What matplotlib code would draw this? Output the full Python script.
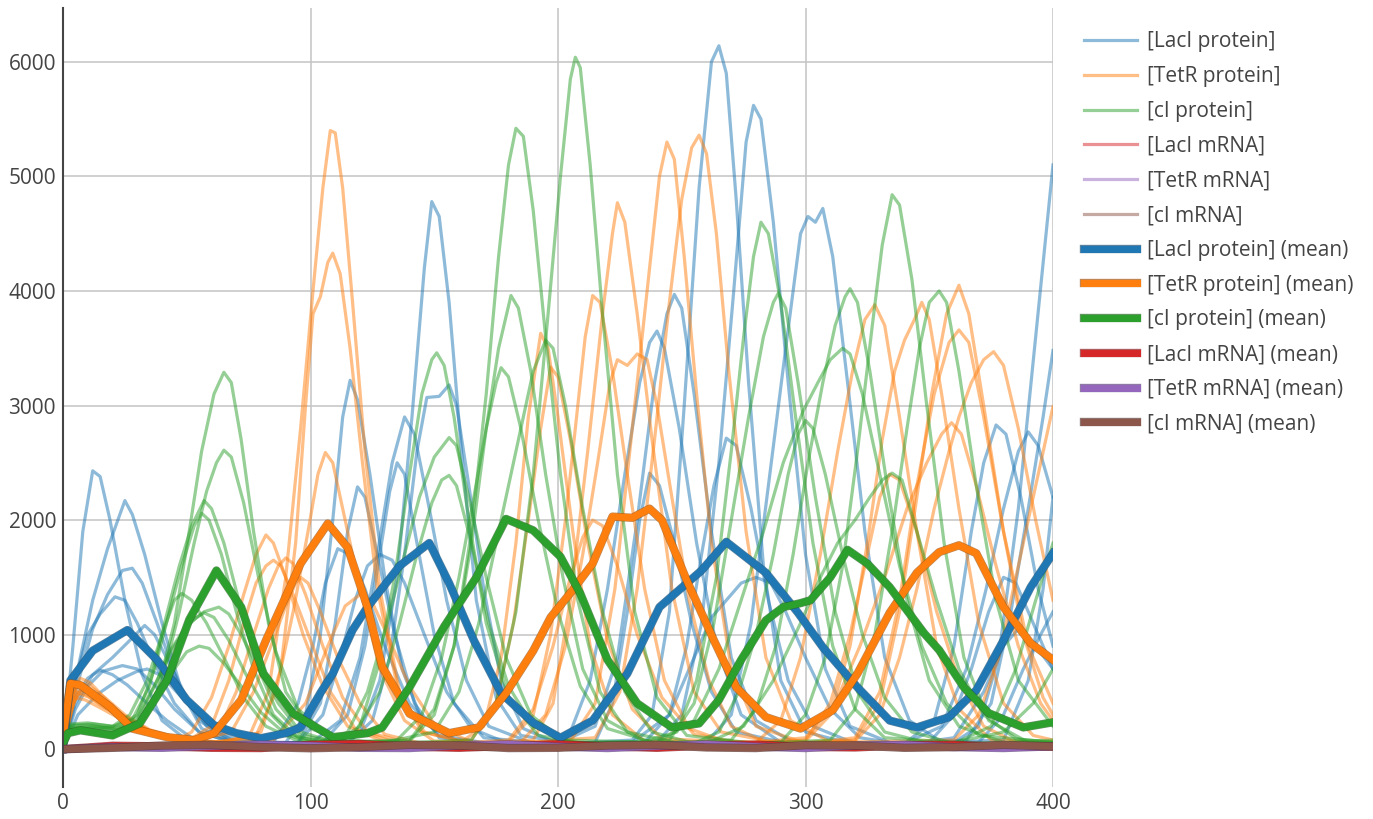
import numpy as np
import matplotlib
matplotlib.use("Agg")
import matplotlib.pyplot as plt
import matplotlib.patheffects as pe
import matplotlib.colors as mcol

plt.rcParams['font.family'] = ['Open Sans', 'DejaVu Sans']

# individual runs, (time, value) pairs
laci_runs = [
    [(0, 0), (4, 900), (8, 1900), (12, 2430), (15, 2380), (19, 2000), (25, 1300), (32, 650), (40, 250), (50, 80), (70, 40),
     (110, 60), (120, 150), (128, 600), (135, 1500), (141, 2900), (146, 4200), (149, 4780), (152, 4650), (156, 3900),
     (161, 2600), (167, 1300), (175, 450), (185, 120), (205, 50), (230, 80), (238, 300), (245, 1200), (251, 3000),
     (257, 4900), (262, 6000), (265, 6140), (268, 5900), (272, 4800), (277, 3200), (283, 1600), (290, 600), (300, 150),
     (320, 40), (360, 60), (370, 200), (378, 800), (386, 2100), (393, 3600), (400, 5100)],
    [(0, 0), (6, 700), (12, 1300), (18, 1750), (25, 2170), (28, 2050), (33, 1700), (40, 1100), (48, 500), (56, 180),
     (70, 50), (90, 60), (98, 300), (104, 1000), (109, 2000), (113, 2900), (116, 3220), (119, 3050), (124, 2400),
     (130, 1500), (137, 700), (145, 250), (160, 60), (200, 50), (215, 200), (224, 800), (232, 2000), (239, 3200),
     (244, 3800), (247, 3970), (250, 3850), (255, 3100), (262, 1900), (270, 800), (280, 250), (295, 60), (340, 50),
     (352, 250), (360, 900), (367, 1900), (372, 2500), (377, 2830), (381, 2750), (387, 2200), (394, 1400), (400, 900)],
    [(0, 0), (5, 500), (12, 1050), (18, 1350), (24, 1560), (28, 1580), (32, 1450), (38, 1100), (46, 600), (55, 250),
     (68, 70), (100, 50), (112, 250), (120, 800), (127, 1700), (133, 2500), (138, 2900), (142, 2750), (148, 2100),
     (155, 1300), (163, 600), (172, 200), (190, 50), (240, 60), (250, 300), (258, 1100), (265, 2500), (271, 4000),
     (276, 5300), (279, 5620), (282, 5500), (287, 4600), (293, 3200), (300, 1700), (308, 700), (318, 200), (335, 50),
     (365, 80), (375, 400), (383, 1200), (390, 2100), (396, 2900), (400, 3480)],
    [(0, 0), (5, 600), (10, 1000), (15, 1180), (21, 1330), (25, 1300), (30, 1100), (37, 750), (45, 400), (55, 150),
     (70, 50), (105, 60), (115, 300), (122, 900), (128, 1700), (132, 2250), (135, 2500), (138, 2400), (143, 1800),
     (150, 1000), (158, 400), (170, 100), (195, 50), (205, 150), (213, 600), (220, 1400), (227, 2400), (233, 3200),
     (237, 3550), (240, 3650), (243, 3500), (249, 2800), (256, 1800), (264, 900), (274, 300), (290, 60), (340, 50),
     (355, 200), (365, 700), (373, 1400), (380, 2100), (386, 2600), (390, 2770), (394, 2650), (400, 2200)],
    [(0, 0), (5, 400), (12, 650), (20, 800), (27, 950), (33, 1080), (37, 1000), (43, 750), (50, 450), (58, 200),
     (70, 60), (115, 50), (125, 250), (132, 800), (138, 1700), (143, 2600), (147, 3070), (152, 3080), (156, 3180),
     (159, 3000), (164, 2300), (170, 1400), (177, 600), (186, 180), (200, 50), (260, 60), (270, 300), (278, 1100),
     (285, 2300), (292, 3500), (298, 4500), (301, 4650), (304, 4600), (307, 4720), (311, 4300), (317, 3200),
     (324, 1900), (332, 800), (342, 250), (355, 60), (380, 80), (390, 600), (396, 1400), (400, 2200)],
    [(0, 0), (5, 350), (10, 550), (16, 680), (24, 730), (30, 700), (37, 560), (45, 350), (55, 150), (70, 50), (95, 60),
     (104, 400), (110, 1100), (115, 1900), (119, 2290), (122, 2200), (127, 1700), (134, 1000), (142, 400), (152, 100),
     (175, 40), (235, 60), (245, 300), (252, 900), (258, 1700), (263, 2300), (268, 2715), (272, 2650), (278, 2100),
     (285, 1300), (293, 600), (303, 200), (320, 50), (370, 60), (380, 300), (388, 700), (395, 1000), (400, 1200)],
    [(0, 0), (6, 300), (14, 480), (22, 600), (30, 680), (34, 700), (40, 640), (48, 450), (58, 220), (70, 80), (85, 60),
     (95, 400), (101, 900), (106, 1450), (111, 1750), (116, 1700), (122, 1400), (130, 900), (140, 400), (152, 120),
     (175, 40), (215, 60), (222, 400), (228, 1200), (233, 2000), (237, 2410), (241, 2300), (247, 1800), (254, 1100),
     (262, 500), (272, 150), (295, 40), (350, 60), (360, 300), (367, 700), (374, 1200), (380, 1500), (385, 1450),
     (392, 1100), (400, 700)],
    [(0, 0), (5, 450), (10, 620), (15, 690), (20, 650), (26, 560), (33, 420), (42, 250), (52, 100), (65, 40), (95, 60),
     (105, 300), (112, 800), (118, 1300), (123, 1600), (128, 1700), (133, 1650), (138, 1450), (146, 1000), (155, 500),
     (165, 180), (180, 50), (230, 60), (245, 300), (255, 800), (262, 1150), (268, 1300), (274, 1450), (280, 1500),
     (286, 1450), (292, 1200), (300, 800), (310, 350), (322, 100), (340, 40), (360, 100), (372, 500), (380, 900),
     (386, 1050), (393, 900), (400, 700)],
]

tetr_runs = [
    [(0, 0), (3, 450), (7, 620), (11, 580), (18, 420), (26, 260), (35, 150), (45, 90), (60, 60), (75, 100), (83, 500),
     (90, 1500), (96, 2800), (101, 4000), (105, 4900), (108, 5400), (110, 5380), (113, 4900), (117, 3900), (122, 2600),
     (128, 1400), (136, 500), (146, 150), (165, 50), (190, 80), (198, 400), (205, 1300), (212, 2600), (218, 3800),
     (222, 4500), (224, 4770), (227, 4600), (232, 3800), (238, 2700), (246, 1400), (255, 500), (266, 150), (290, 50),
     (320, 80), (330, 400), (338, 1200), (345, 2200), (351, 3100), (357, 3800), (362, 4050), (366, 3800), (372, 3000),
     (380, 1900), (388, 1000), (396, 450), (400, 300)],
    [(0, 0), (3, 400), (6, 580), (10, 560), (17, 450), (25, 300), (35, 170), (48, 90), (65, 60), (80, 150), (88, 700),
     (94, 1800), (98, 3000), (101, 3800), (104, 3950), (107, 4250), (109, 4330), (112, 4150), (116, 3500), (121, 2500),
     (127, 1400), (135, 550), (145, 150), (165, 50), (205, 70), (215, 400), (223, 1400), (230, 2800), (236, 4000),
     (241, 5000), (244, 5300), (247, 5150), (251, 4300), (256, 3100), (262, 1800), (270, 700), (280, 200), (300, 50),
     (320, 100), (330, 500), (338, 1300), (345, 2300), (352, 3100), (358, 3550), (362, 3660), (366, 3550), (372, 2900),
     (380, 1900), (390, 900), (400, 400)],
    [(0, 0), (3, 380), (5, 560), (9, 530), (15, 430), (24, 300), (34, 170), (46, 90), (62, 60), (78, 120), (86, 500),
     (93, 1200), (99, 1900), (103, 2400), (106, 2590), (109, 2500), (114, 2000), (120, 1400), (128, 700), (138, 250),
     (150, 70), (180, 50), (215, 100), (225, 500), (232, 1400), (239, 2700), (245, 3900), (250, 4800), (254, 5250),
     (257, 5360), (260, 5200), (264, 4500), (269, 3300), (276, 1900), (284, 800), (294, 250), (310, 60), (360, 80),
     (370, 300), (378, 800), (385, 1500), (392, 2200), (400, 2990)],
    [(0, 0), (4, 400), (8, 540), (12, 500), (18, 400), (26, 270), (36, 150), (46, 80), (52, 150), (60, 450), (67, 900),
     (73, 1350), (78, 1700), (82, 1870), (85, 1800), (90, 1500), (97, 1000), (105, 550), (115, 200), (130, 60),
     (160, 50), (170, 200), (177, 800), (183, 1800), (188, 2900), (193, 3630), (196, 3500), (200, 2900), (206, 1900),
     (213, 900), (222, 300), (235, 70), (280, 60), (290, 250), (298, 800), (306, 1700), (313, 2600), (319, 3300),
     (324, 3750), (328, 3880), (332, 3700), (338, 2900), (345, 1900), (353, 900), (362, 350), (375, 80), (400, 60)],
    [(0, 0), (4, 380), (6, 520), (10, 500), (17, 380), (25, 260), (35, 150), (48, 80), (62, 120), (70, 500), (77, 1000),
     (83, 1400), (87, 1600), (90, 1670), (93, 1620), (98, 1350), (105, 900), (113, 450), (123, 150), (140, 50),
     (180, 60), (190, 300), (197, 1000), (203, 2000), (208, 3000), (211, 3600), (214, 3960), (217, 3900), (222, 3300),
     (228, 2400), (235, 1400), (243, 600), (253, 180), (270, 50), (300, 70), (310, 300), (318, 900), (325, 1800),
     (331, 2700), (336, 3300), (340, 3570), (344, 3750), (347, 3900), (350, 3750), (355, 3100), (362, 2100),
     (370, 1100), (380, 400), (392, 120), (400, 80)],
    [(0, 0), (3, 350), (5, 500), (9, 480), (16, 380), (25, 260), (36, 140), (50, 70), (60, 200), (67, 600), (73, 1100),
     (78, 1450), (82, 1600), (85, 1650), (88, 1600), (93, 1350), (100, 950), (108, 500), (118, 180), (135, 50),
     (185, 60), (195, 300), (203, 900), (210, 1700), (216, 2500), (221, 3200), (224, 3400), (228, 3350), (232, 3450),
     (236, 3400), (240, 3000), (246, 2200), (253, 1300), (261, 600), (270, 200), (285, 50), (320, 70), (330, 300),
     (338, 800), (345, 1400), (352, 2100), (358, 2600), (362, 2900), (367, 3200), (372, 3400), (376, 3470),
     (380, 3350), (386, 2800), (393, 2000), (400, 1300)],
    [(0, 0), (3, 330), (6, 480), (10, 460), (17, 360), (27, 240), (38, 130), (52, 70), (68, 150), (77, 500), (84, 900),
     (90, 1250), (94, 1450), (96, 1500), (99, 1450), (104, 1200), (111, 800), (120, 400), (130, 130), (145, 50),
     (165, 80), (175, 400), (182, 1100), (188, 2000), (193, 2800), (197, 3335), (200, 3250), (205, 2700), (212, 1800),
     (220, 950), (230, 350), (242, 90), (280, 60), (300, 100), (312, 400), (322, 900), (332, 1500), (341, 2100),
     (349, 2500), (355, 2750), (359, 2850), (363, 2750), (369, 2300), (377, 1600), (386, 900), (395, 400), (400, 250)],
    [(0, 0), (3, 300), (5, 450), (9, 430), (16, 350), (26, 230), (38, 120), (55, 60), (85, 80), (98, 400), (107, 900),
     (114, 1250), (120, 1350), (125, 1280), (132, 950), (140, 550), (150, 220), (165, 60), (180, 80), (190, 350),
     (198, 900), (205, 1500), (210, 1850), (214, 2000), (218, 1950), (224, 1600), (232, 1000), (242, 450), (255, 130),
     (275, 50), (300, 80), (310, 400), (318, 1000), (325, 1700), (330, 2200), (334, 2400), (338, 2350), (345, 1900),
     (353, 1200), (362, 600), (372, 200), (385, 60), (400, 50)],
]

ci_runs = [
    [(0, 0), (3, 200), (10, 210), (20, 180), (30, 230), (38, 500), (45, 1100), (51, 1900), (56, 2600), (61, 3100),
     (65, 3290), (68, 3200), (72, 2700), (77, 1900), (83, 1100), (90, 500), (100, 180), (115, 60), (140, 70),
     (150, 300), (158, 900), (165, 1900), (171, 3100), (176, 4300), (180, 5100), (183, 5420), (186, 5350), (190, 4700),
     (195, 3600), (201, 2400), (208, 1300), (217, 500), (228, 150), (250, 50), (290, 60), (300, 300), (308, 800),
     (315, 1600), (321, 2600), (327, 3700), (331, 4400), (335, 4840), (338, 4750), (343, 4100), (349, 3000),
     (356, 1800), (364, 800), (374, 250), (390, 60), (400, 50)],
    [(0, 0), (3, 180), (12, 200), (22, 170), (32, 250), (40, 600), (47, 1200), (53, 1800), (58, 2250), (62, 2500),
     (65, 2610), (68, 2550), (73, 2150), (79, 1500), (86, 850), (95, 350), (108, 100), (130, 50), (165, 80), (175, 400),
     (183, 1200), (190, 2400), (196, 3800), (201, 5000), (205, 5850), (207, 6040), (209, 5950), (213, 5100),
     (218, 3800), (224, 2400), (231, 1200), (240, 450), (252, 120), (280, 50), (310, 80), (320, 350), (328, 1000),
     (335, 1900), (341, 2800), (346, 3500), (350, 3900), (354, 4000), (357, 3900), (362, 3300), (369, 2300),
     (377, 1300), (386, 600), (400, 200)],
    [(0, 0), (3, 220), (10, 230), (20, 200), (28, 260), (35, 550), (41, 1100), (47, 1600), (52, 1950), (57, 2170),
     (60, 2100), (65, 1800), (71, 1300), (78, 750), (86, 350), (96, 120), (115, 50), (140, 80), (150, 350), (158, 900),
     (165, 1800), (171, 2800), (176, 3500), (181, 3960), (184, 3850), (189, 3300), (195, 2400), (202, 1500), (210, 700),
     (220, 250), (235, 70), (248, 150), (256, 600), (264, 1500), (270, 2600), (275, 3600), (279, 4300), (282, 4600),
     (285, 4500), (290, 3900), (296, 2900), (303, 1800), (311, 900), (320, 350), (332, 100), (360, 60), (380, 150),
     (392, 400), (400, 700)],
    [(0, 0), (3, 190), (12, 180), (22, 200), (30, 300), (37, 700), (43, 1200), (48, 1600), (53, 1950), (56, 2060),
     (59, 2000), (64, 1700), (70, 1200), (77, 700), (85, 300), (95, 100), (110, 60), (120, 200), (127, 700),
     (134, 1500), (140, 2400), (145, 3100), (149, 3400), (151, 3460), (154, 3350), (158, 2900), (164, 2000),
     (171, 1100), (180, 450), (192, 120), (210, 50), (245, 80), (255, 400), (263, 1100), (270, 2000), (277, 2900),
     (283, 3600), (287, 3900), (289, 3980), (292, 3850), (297, 3200), (304, 2200), (312, 1200), (321, 500), (332, 150),
     (350, 50), (400, 60)],
    [(0, 0), (3, 170), (12, 190), (22, 170), (30, 280), (38, 600), (45, 900), (51, 1100), (57, 1200), (63, 1240),
     (67, 1180), (72, 1000), (79, 700), (87, 400), (96, 150), (110, 60), (135, 80), (145, 300), (153, 800), (160, 1500),
     (166, 2200), (171, 2800), (175, 3200), (177, 3330), (180, 3250), (185, 2800), (192, 2000), (200, 1200), (209, 550),
     (220, 180), (240, 50), (270, 80), (280, 350), (288, 900), (295, 1700), (301, 2500), (307, 3200), (312, 3700),
     (316, 3950), (318, 4020), (321, 3900), (326, 3300), (333, 2300), (341, 1300), (350, 600), (362, 200), (380, 60),
     (400, 80)],
    [(0, 0), (3, 160), (12, 170), (22, 150), (30, 250), (37, 550), (43, 850), (49, 1050), (54, 1150), (57, 1190),
     (61, 1150), (67, 950), (74, 650), (82, 350), (92, 130), (105, 50), (115, 150), (123, 500), (131, 1100), (138, 1700),
     (144, 2200), (150, 2550), (156, 2720), (159, 2650), (164, 2200), (171, 1500), (179, 800), (189, 300), (202, 80),
     (240, 60), (255, 250), (265, 700), (274, 1300), (283, 1900), (291, 2500), (299, 2950), (305, 3200), (310, 3400),
     (315, 3500), (318, 3450), (323, 3100), (330, 2400), (338, 1600), (347, 900), (357, 400), (370, 120), (400, 60)],
    [(0, 0), (3, 210), (12, 220), (20, 200), (27, 300), (34, 600), (40, 1000), (45, 1300), (48, 1360), (52, 1300),
     (58, 1100), (65, 800), (73, 450), (82, 200), (95, 70), (130, 60), (150, 150), (160, 500), (168, 1100), (175, 1800),
     (181, 2400), (186, 2900), (190, 3300), (195, 3570), (198, 3500), (203, 3000), (210, 2100), (218, 1200), (227, 500),
     (238, 150), (255, 50), (265, 150), (273, 500), (280, 1000), (287, 1700), (293, 2400), (297, 2750), (300, 2870),
     (303, 2800), (308, 2400), (315, 1700), (323, 1000), (332, 450), (343, 150), (360, 50), (375, 200), (385, 700),
     (393, 1300), (400, 1800)],
    [(0, 0), (3, 150), (12, 160), (22, 140), (30, 220), (38, 450), (45, 700), (50, 850), (55, 900), (59, 880), (65, 750),
     (72, 550), (80, 320), (90, 130), (102, 50), (118, 150), (128, 500), (136, 1100), (143, 1700), (149, 2150),
     (153, 2350), (156, 2390), (159, 2300), (165, 1800), (172, 1100), (180, 550), (190, 200), (205, 60), (260, 50),
     (275, 200), (287, 600), (298, 1100), (306, 1500), (313, 1800), (320, 2000), (326, 2200), (331, 2350), (335, 2410),
     (339, 2350), (345, 1900), (353, 1300), (362, 700), (372, 300), (385, 90), (400, 60)],
]

# mRNA stays close to zero
mrna_t = [0, 20, 40, 60, 80, 100, 120, 140, 160, 180, 200, 220, 240, 260, 280, 300, 320, 340, 360, 380, 400]
laci_mrna_runs = [
    [0, 45, 20, 5, 10, 60, 55, 15, 5, 40, 50, 20, 10, 55, 45, 10, 15, 50, 40, 10, 30],
    [0, 30, 35, 10, 5, 35, 60, 30, 5, 20, 55, 35, 5, 30, 55, 25, 5, 35, 50, 25, 10],
]
tetr_mrna_runs = [
    [0, 10, 5, 40, 55, 20, 5, 10, 45, 50, 15, 5, 40, 50, 10, 5, 45, 40, 10, 5, 35],
    [0, 15, 10, 25, 50, 40, 10, 5, 30, 55, 30, 5, 25, 55, 30, 5, 30, 50, 20, 5, 20],
]
ci_mrna_runs = [
    [0, 5, 45, 35, 10, 5, 20, 55, 30, 5, 10, 45, 40, 5, 10, 50, 30, 5, 25, 50, 20],
    [0, 10, 30, 50, 25, 5, 10, 40, 45, 10, 5, 30, 50, 20, 5, 35, 45, 10, 10, 40, 35],
]
laci_mrna_mean = [0, 30, 25, 12, 10, 38, 45, 22, 12, 28, 42, 25, 12, 32, 40, 20, 15, 35, 38, 20, 22]
tetr_mrna_mean = [0, 18, 12, 28, 40, 30, 12, 10, 32, 42, 22, 10, 28, 42, 22, 10, 32, 38, 18, 10, 25]
ci_mrna_mean = [0, 12, 32, 38, 18, 8, 18, 38, 32, 10, 12, 32, 38, 15, 10, 35, 32, 12, 18, 38, 25]

# mean curves
laci_mean_t = [0, 3, 12, 26, 38, 50, 61, 70, 80, 90, 96, 104, 109, 117, 123, 136, 148, 156, 166, 177, 190, 201, 214,
               228, 241, 250, 258, 268, 284, 297, 307, 321, 334, 345, 358, 369, 380, 391, 400]
laci_mean = [0, 600, 860, 1040, 780, 430, 210, 140, 96, 140, 190, 490, 660, 1040, 1240, 1600, 1800, 1450, 950, 490,
             230, 100, 250, 660, 1240, 1410, 1560, 1810, 1540, 1190, 890, 540, 250, 190, 280, 515, 950, 1415, 1710]
tetr_mean_t = [0, 3, 7, 19, 28, 42, 53, 61, 72, 82, 96, 107, 115, 123, 129, 140, 156, 168, 179, 190, 197, 206, 214,
               222, 230, 237, 242, 252, 263, 272, 284, 298, 311, 321, 334, 345, 354, 362, 369, 380, 391, 400]
tetr_mean = [100, 575, 560, 370, 180, 105, 80, 140, 430, 950, 1620, 1970, 1760, 1240, 720, 310, 140, 190, 490, 860,
             1150, 1390, 1620, 2030, 2020, 2100, 2000, 1475, 950, 540, 280, 180, 340, 660, 1190, 1540, 1720, 1780, 1710,
             1240, 925, 780]
ci_mean_t = [0, 2, 7, 20, 31, 42, 51, 62, 72, 81, 93, 109, 123, 129, 140, 154, 167, 179, 190, 201, 209, 220, 232, 246,
             257, 265, 274, 284, 291, 298, 302, 310, 317, 325, 334, 348, 354, 364, 374, 388, 400]
ci_mean = [50, 140, 165, 120, 225, 600, 1130, 1560, 1240, 660, 310, 105, 140, 190, 540, 1070, 1500, 2010, 1910, 1680,
           1360, 780, 400, 190, 225, 430, 780, 1125, 1240, 1275, 1300, 1500, 1740, 1620, 1415, 1010, 865, 540, 315, 190,
           235]

colors = ['#1f77b4', '#ff7f0e', '#2ca02c', '#d62728', '#9467bd', '#8c564b']


def edged(c):
    # thin darker rim round the mean lines
    dark = np.array(mcol.to_rgb(c)) * 0.65
    return [pe.Stroke(linewidth=6, foreground=dark, alpha=0.7), pe.Normal()]


fig = plt.figure(figsize=(13.73, 8.19), dpi=100)
ax = fig.add_axes([63 / 1373, 1 - 787 / 819, 990 / 1373, 779 / 819])

run_lw = 2.3
for name, runs, c in [('[LacI protein]', laci_runs, colors[0]),
                      ('[TetR protein]', tetr_runs, colors[1]),
                      ('[cI protein]', ci_runs, colors[2])]:
    for i, run in enumerate(runs):
        t, v = zip(*run)
        ax.plot(t, v, color=c, alpha=0.5, lw=run_lw, label=name if i == 0 else '_nolegend_',
                solid_joinstyle='round')

for name, runs, c in [('[LacI mRNA]', laci_mrna_runs, colors[3]),
                      ('[TetR mRNA]', tetr_mrna_runs, colors[4]),
                      ('[cI mRNA]', ci_mrna_runs, colors[5])]:
    for i, run in enumerate(runs):
        ax.plot(mrna_t, run, color=c, alpha=0.5, lw=run_lw, label=name if i == 0 else '_nolegend_')

mean_lw = 5
for t, v, c, name in [(laci_mean_t, laci_mean, colors[0], '[LacI protein] (mean)'),
                      (tetr_mean_t, tetr_mean, colors[1], '[TetR protein] (mean)'),
                      (ci_mean_t, ci_mean, colors[2], '[cI protein] (mean)'),
                      (mrna_t, laci_mrna_mean, colors[3], '[LacI mRNA] (mean)'),
                      (mrna_t, tetr_mrna_mean, colors[4], '[TetR mRNA] (mean)'),
                      (mrna_t, ci_mrna_mean, colors[5], '[cI mRNA] (mean)')]:
    ax.plot(t, v, color=c, lw=mean_lw, label=name, solid_joinstyle='round', path_effects=edged(c))

ax.set_xlim(0, 400)
ax.set_ylim(-330, 6470)
ax.set_xticks([0, 100, 200, 300, 400])
ax.set_yticks([0, 1000, 2000, 3000, 4000, 5000, 6000])
ax.grid(True, color='#c4c4c4', lw=1.1)
ax.set_axisbelow(True)
for s in ['top', 'right', 'bottom']:
    ax.spines[s].set_visible(False)
ax.spines['left'].set_color('#444444')
ax.spines['left'].set_linewidth(1.5)
ax.tick_params(length=0, labelsize=15, labelcolor='#444444')
ax.tick_params(axis='x', pad=4)
ax.tick_params(axis='y', pad=5)

fig.legend(loc='upper left', bbox_to_anchor=(1074 / 1373, 1 - 21 / 819), frameon=False, fontsize=15,
           handlelength=2.5, handletextpad=0.5, labelspacing=0.66, borderpad=0, labelcolor='#444444')

fig.savefig('out.png', dpi=100)
